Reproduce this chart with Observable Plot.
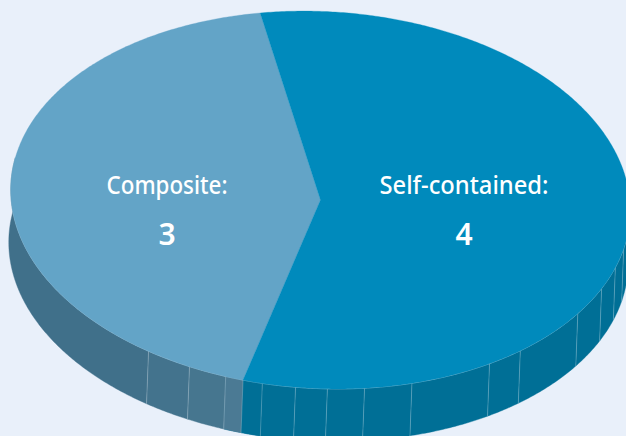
<!DOCTYPE html>
<html>
<head>
<meta charset="utf-8">
<script src="https://cdn.jsdelivr.net/npm/d3@7"></script>
<script src="https://cdn.jsdelivr.net/npm/@observablehq/plot@0.6"></script>
<style>
html,body{margin:0;padding:0;background:#e9f0fa;overflow:hidden}
svg{display:block}
</style>
</head>
<body>
<div id="chart"></div>
<script>
const categories = ["Composite", "Self-contained"];
const values = [3, 4];
const labelTexts = ["Composite:", "Self-contained:"];
const topColors = ["#63a4c7", "#008abc"];
const sideColors = ["#40708a", "#006f96"];
const labelCenters = [166.5, 463.5];
const labelWidths = [121, 169];
// Side-wall seams, degrees along the rim
const seamAngles = [121.9, 113.2, 106, 99, 92.8, 86.9, 80, 71, 55.1, 48, 32, 23, 16, 10];
const compositeShades = ["#40708a", "#43738d", "#46768f", "#4b7a94"];

const W = 626, H = 436;
const cx = 320, cy = 199.5, a = 310, b = 188.5, tilt = 3 * Math.PI / 180;
const depthX = -2, depthY = 52.5;
const rad = d => d * Math.PI / 180;
const rim = (deg, dx = 0, dy = 0) => {
  const t = rad(deg), u = a * Math.cos(t), v = b * Math.sin(t);
  return {x: cx + dx + u * Math.cos(tilt) - v * Math.sin(tilt),
          y: cy + dy + u * Math.sin(tilt) + v * Math.cos(tilt)};
};
const arc = (d0, d1, dx = 0, dy = 0) => {
  const n = Math.max(2, Math.ceil(Math.abs(d1 - d0) * 2));
  return d3.range(n + 1).map(i => rim(d0 + (d1 - d0) * i / n, dx, dy));
};

// Slices from the values: the first slice is centred on the left of the disc
const total = d3.sum(values);
const spans = values.map(v => v / total * 360);
const start0 = 180 - spans[0] / 2 - 0.2;
const slices = values.map((v, i) => {
  const s = start0 + d3.sum(spans.slice(0, i));
  return {start: s, end: s + spans[i], i};
});

// Side wall facets, split at the seams
const breakAngles = [-8, ...seamAngles, 188].sort((p, q) => p - q);
const boundary = slices[0].start;
const facets = [];
for (let k = 0; k < breakAngles.length - 1; k++) {
  const d0 = breakAngles[k], d1 = breakAngles[k + 1];
  const isComp = (d0 + d1) / 2 > boundary;
  const idx = breakAngles.length - 2 - k;
  const fill = isComp ? compositeShades[Math.min(idx, compositeShades.length - 1)] : sideColors[1];
  facets.push({fill, pts: [...arc(d0, d1), ...arc(d1, d0, depthX, depthY)]});
}
// wall split between the two slices
const wallSplit = [
  {fill: sideColors[1], pts: [...arc(99, boundary), ...arc(boundary, 99, depthX, depthY)]},
  {fill: compositeShades[3], pts: [...arc(boundary, 106), ...arc(106, boundary, depthX, depthY)]}
];

const sliceMarks = slices.map(s => Plot.line(
  [{x: cx, y: cy}, ...arc(s.start, s.end), {x: cx, y: cy}],
  {x: "x", y: "y", fill: topColors[s.i], stroke: topColors[s.i], strokeWidth: 0.3}
));
const facetMarks = [...facets, ...wallSplit].map(f => Plot.line(
  f.pts, {x: "x", y: "y", fill: f.fill, stroke: f.fill, strokeWidth: 0.4}
));
const seamData = [...seamAngles, boundary].map(d => [rim(d), rim(d, depthX, depthY)]);
const seamMarks = seamData.map(p => Plot.line(p, {
  x: "x", y: "y", stroke: "#ffffff", strokeOpacity: 0.22, strokeWidth: 1
}));

const labels = labelTexts.map((t, i) => ({x: labelCenters[i], y: 185, t}));
const nums = values.map((v, i) => ({x: labelCenters[i], y: 235, t: String(v)}));

const chart = Plot.plot({
  width: W, height: H,
  margin: 0,
  x: {domain: [0, W], range: [0, W], axis: null},
  y: {domain: [0, H], range: [0, H], axis: null},
  style: {background: "#e9f0fa", fontFamily: "'Noto Sans',sans-serif"},
  marks: [
    ...facetMarks,
    ...seamMarks,
    Plot.line(arc(-8, 188), {x: "x", y: "y", stroke: "#a9d2e6", strokeOpacity: 0.7, strokeWidth: 0.8}),
    ...sliceMarks,
    Plot.text(labels, {x: "x", y: "y", text: "t", fill: "#fff", fontSize: 26, fontWeight: 500, textAnchor: "middle", lineAnchor: "middle"}),
    Plot.text(nums, {x: "x", y: "y", text: "t", fill: "#fff", fontSize: 30, fontWeight: 600, textAnchor: "middle", lineAnchor: "middle"})
  ]
});
// Condense the label glyphs to the reference's narrow type
const textEls = [...chart.querySelectorAll("text")].filter(t => labelTexts.includes(t.textContent));
textEls.forEach(t => {
  const w = labelWidths[labelTexts.indexOf(t.textContent)];
  t.setAttribute("textLength", w);
  t.setAttribute("lengthAdjust", "spacingAndGlyphs");
});
document.getElementById("chart").appendChild(chart);
</script>
</body>
</html>
